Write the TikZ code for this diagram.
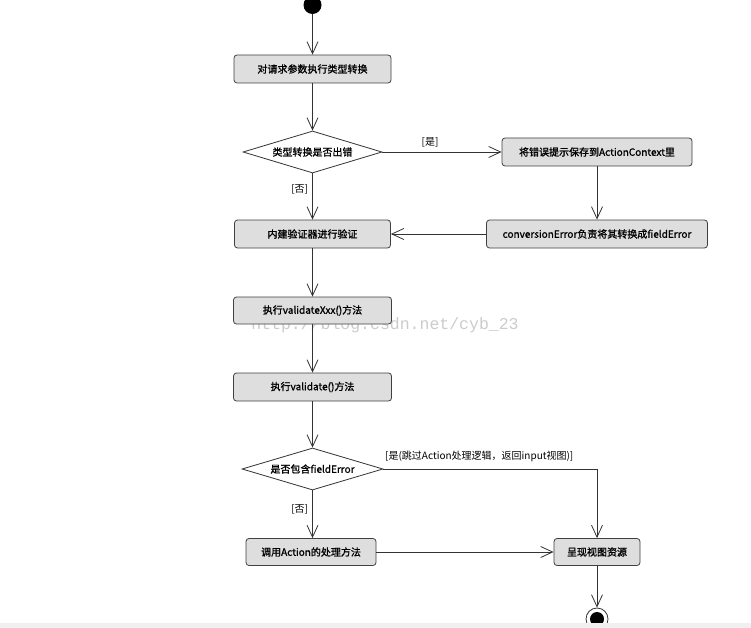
\documentclass[tikz,border=0pt]{standalone}
\usepackage{fontspec}
\newfontfamily\cjk[FakeBold=1.2]{Noto Sans CJK SC}
\newfontfamily\cjklight{Noto Sans CJK SC}
\newfontfamily\wmfont{Liberation Mono}
\usetikzlibrary{shapes.geometric,arrows.meta}
\tikzset{
  act/.style={draw=black!75, fill=black!13, rounded corners=3pt, line width=0.8pt, inner sep=0pt, font=\cjk\fontsize{10}{12}\selectfont},
  dec/.style={draw=black!80, fill=white, diamond, aspect=3.3, inner sep=0pt, line width=0.8pt, font=\cjk\fontsize{10}{12}\selectfont},
  flow/.style={draw=black!80, line width=0.8pt, -{Straight Barb[length=12pt,width=11pt,line width=0.8pt]}},
  guard/.style={font=\cjklight\fontsize{10}{12}\selectfont, inner sep=1pt}
}
\begin{document}
\begin{tikzpicture}[x=1pt,y=-1pt]
\useasboundingbox (0,0) rectangle (751,628);
\fill[white] (0,0) rectangle (751,628);
% watermark
\node[font=\wmfont\fontsize{16.5}{18}\selectfont, text=black!20, anchor=center] (wm) at (385,325) {http://blog.csdn.net/cyb\_23};
% nodes
\node[circle, fill=black, minimum size=18pt, inner sep=0pt] (start) at (312.5,5) {};
\node[act, minimum width=157pt, minimum height=28pt] (b1) at (312.5,69) {对请求参数执行类型转换};
\node[dec, minimum width=139pt, minimum height=42pt] (d1) at (312.5,152) {类型转换是否出错};
\node[act, minimum width=190pt, minimum height=28pt] (r1) at (597,152) {将错误提示保存到ActionContext里};
\node[act, minimum width=156pt, minimum height=28pt] (b2) at (312.5,234) {内建验证器进行验证};
\node[act, minimum width=221pt, minimum height=28pt] (conv) at (597,234) {conversionError负责将其转换成fieldError};
\node[act, minimum width=158pt, minimum height=27pt] (b3) at (312.5,310.5) {执行validateXxx()方法};
\node[act, minimum width=158pt, minimum height=28pt] (b4) at (312.5,387) {执行validate()方法};
\node[dec, minimum width=141pt, minimum height=42pt] (d2) at (312.5,469) {是否包含fieldError};
\node[act, minimum width=130pt, minimum height=27pt] (b5) at (311,552) {调用Action的处理方法};
\node[act, minimum width=86pt, minimum height=27pt] (r5) at (597,552) {呈现视图资源};
\node[circle, draw=black!80, fill=white, line width=0.8pt, minimum size=22pt, inner sep=0pt] (end) at (597,619) {};
\node[circle, fill=black, minimum size=14pt, inner sep=0pt] (endin) at (end.center) {};
% connectors
\draw[flow] (start) -- (b1);
\draw[flow] (b1) -- (d1);
\draw[flow] (d1.east) -- node[guard, above, pos=0.4, yshift=3pt] (g1) {[是]} (r1.west);
\draw[flow] (d1.south) -- node[guard, left, pos=0.35, xshift=-3pt] (g2) {[否]} (b2.north);
\draw[flow] (r1) -- (conv);
\draw[flow] (conv.west) -- (b2.east);
\draw[flow] (b2) -- (b3);
\draw[flow] (b3) -- (b4);
\draw[flow] (b4) -- (d2);
\draw[flow] (d2.east) -| (r5.north);
\node[guard, anchor=south west] (g3) at (384,463) {[是(跳过Action处理逻辑，返回input视图)]};
\draw[flow] (d2.south) -- node[guard, left, pos=0.4, xshift=-3pt] (g4) {[否]} (d2.south |- b5.north);
\draw[flow] (b5.east) -- (r5.west);
\draw[flow] (r5) -- (end);
% bottom strip
\fill[black!6] (0,623) rectangle (751,628);
\end{tikzpicture}
\end{document}
